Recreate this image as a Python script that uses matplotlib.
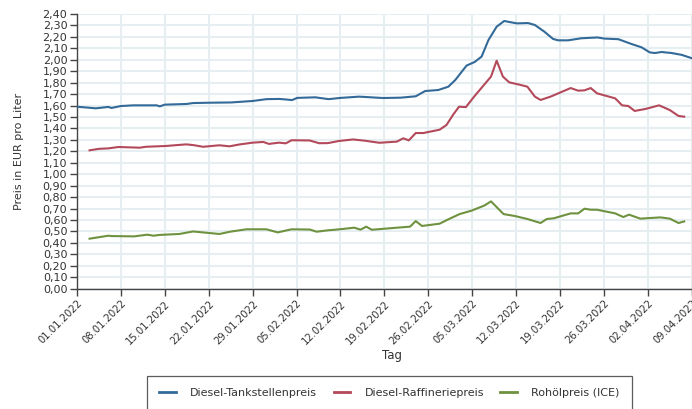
import numpy as np
import pandas as pd
import matplotlib
matplotlib.use('Agg')
import matplotlib.pyplot as plt
from matplotlib.lines import Line2D

# days since 01.01.2022 and price in EUR per litre
tank_days = [0, 3, 5, 5.5, 7, 9, 12.7, 13.2, 14, 17.5, 18.5, 21.2, 24.5, 28, 30.2, 32.3,
             34.3, 35.1, 38, 40.1, 42, 45, 48.8, 51.6, 54, 55.5, 57.6, 59.2, 60.3, 62.1,
             63.4, 64.5, 65.6, 66.9, 68.1, 70.1, 71.9, 73, 74.5, 75.9, 76.7, 78.3, 80.4,
             83, 84.1, 86.3, 88.4, 90, 91.3, 92.1, 93.2, 94.8, 96.4, 98]
tank_price = [1.590, 1.576, 1.588, 1.579, 1.596, 1.602, 1.602, 1.593, 1.608, 1.614, 1.622,
              1.625, 1.627, 1.640, 1.656, 1.658, 1.648, 1.667, 1.672, 1.656, 1.667, 1.678,
              1.666, 1.669, 1.681, 1.727, 1.736, 1.765, 1.823, 1.949, 1.981, 2.028, 2.173,
              2.289, 2.339, 2.318, 2.321, 2.304, 2.246, 2.182, 2.170, 2.170, 2.188, 2.195,
              2.185, 2.180, 2.138, 2.109, 2.065, 2.059, 2.068, 2.059, 2.043, 2.014]

raff_days = [2, 3.5, 5, 6.6, 10, 11, 14.2, 17.4, 18.5, 20.1, 22.7, 24.3, 25.9, 28, 29.7,
             30.6, 32.2, 33.3, 34.2, 37.1, 38.6, 40, 41.7, 44, 45.9, 48.2, 51, 52, 52.9,
             54, 55.2, 57.8, 58.9, 60, 60.9, 62, 63.4, 66, 66.9, 67.9, 68.9, 70.5, 71.8,
             73, 73.9, 75.5, 78.7, 79.9, 80.9, 81.9, 82.9, 85.8, 86.9, 87.9, 88.9, 90.6,
             92.8, 94.5, 95.9, 96.8]
raff_price = [1.209, 1.222, 1.226, 1.238, 1.232, 1.240, 1.247, 1.261, 1.255, 1.240, 1.253,
              1.244, 1.260, 1.276, 1.282, 1.265, 1.276, 1.270, 1.297, 1.295, 1.271, 1.272,
              1.290, 1.304, 1.293, 1.275, 1.285, 1.314, 1.296, 1.360, 1.360, 1.389, 1.430,
              1.523, 1.590, 1.587, 1.684, 1.853, 1.992, 1.853, 1.803, 1.783, 1.765, 1.678,
              1.649, 1.678, 1.753, 1.730, 1.733, 1.753, 1.707, 1.663, 1.602, 1.596, 1.553,
              1.570, 1.602, 1.561, 1.509, 1.503]

oil_days = [2, 5, 5.5, 9.1, 11.2, 12.2, 13.2, 16.3, 18.5, 21.2, 22.7, 24.4, 27, 30.2, 32,
            34.2, 37.1, 38.2, 40, 41.7, 44.2, 45.2, 46.1, 47, 51, 53.1, 54, 55, 57.8, 59.2,
            61, 62.9, 65, 66, 68, 69.8, 71.8, 73.9, 74.9, 76, 78.7, 79.9, 80.9, 81.9, 82.9,
            85.8, 87.1, 88, 89.8, 93, 94.5, 95.9, 96.8]
oil_price = [0.437, 0.463, 0.460, 0.457, 0.472, 0.463, 0.470, 0.478, 0.500, 0.486, 0.478,
             0.498, 0.519, 0.519, 0.492, 0.519, 0.517, 0.498, 0.510, 0.518, 0.533, 0.516,
             0.542, 0.515, 0.533, 0.542, 0.591, 0.548, 0.568, 0.606, 0.652, 0.682, 0.728,
             0.763, 0.652, 0.635, 0.609, 0.574, 0.609, 0.615, 0.658, 0.658, 0.699, 0.690,
             0.690, 0.658, 0.626, 0.647, 0.612, 0.623, 0.612, 0.574, 0.588]

series_labels = ['Diesel-Tankstellenpreis', 'Diesel-Raffineriepreis', 'Rohölpreis (ICE)']
series_colors = ['#336a98', '#b3495a', '#6e923f']

tick_dates = pd.date_range('2022-01-01', '2022-04-09', freq='7D')
tick_days = [(d - tick_dates[0]).days for d in tick_dates]
tick_labels = [d.strftime('%d.%m.%Y') for d in tick_dates]
y_ticks = np.arange(0, 2.41, 0.1)

text_col = '#333333'
grid_col = '#e6eef2'
plt.rcParams['font.family'] = 'DejaVu Sans'

fig = plt.figure(figsize=(6.92, 4.09), dpi=100)
ax = fig.add_axes([77 / 692, 120.3 / 409, 630.4 / 692, 274.7 / 409])

for days, price, col in zip([tank_days, raff_days, oil_days],
                            [tank_price, raff_price, oil_price], series_colors):
    ax.plot(days, price, color=col, linewidth=1.5, solid_joinstyle='round', zorder=3)

ax.set_xlim(0, 100.5)
ax.set_ylim(0, 2.40)

ax.set_yticks(y_ticks)
ax.set_yticklabels([f'{v:.2f}'.replace('.', ',') for v in y_ticks], fontsize=8, color=text_col)
ax.set_xticks(tick_days)
ax.set_xticklabels(tick_labels, rotation=45, ha='right', rotation_mode='anchor',
                   fontsize=7.2, color=text_col)
ax.tick_params(axis='both', length=5, width=1, color='#444444', pad=2)

ax.grid(True, color=grid_col, linewidth=1.5, zorder=0)
ax.set_axisbelow(True)
for side in ['top', 'right']:
    ax.spines[side].set_visible(False)
for side in ['left', 'bottom']:
    ax.spines[side].set_color('#444444')
    ax.spines[side].set_linewidth(1.0)

ax.set_ylabel('Preis in EUR pro Liter', fontsize=8, color=text_col, labelpad=13)
ax.set_xlabel('Tag', fontsize=8.5, color=text_col, labelpad=2)

handles = [Line2D([], [], color=c, linewidth=2) for c in series_colors]
leg = fig.legend(handles, series_labels, loc='upper left', ncol=3, mode='expand',
                 bbox_to_anchor=(147 / 692, -0.005, 485 / 692, 35 / 409),
                 fontsize=8, frameon=True, fancybox=False, borderpad=1.1,
                 handlelength=1.5, handletextpad=1.3, borderaxespad=0)
leg.get_frame().set_edgecolor('#333333')
leg.get_frame().set_linewidth(0.9)
for t in leg.get_texts():
    t.set_color(text_col)

fig.savefig('out.png', dpi=100)
